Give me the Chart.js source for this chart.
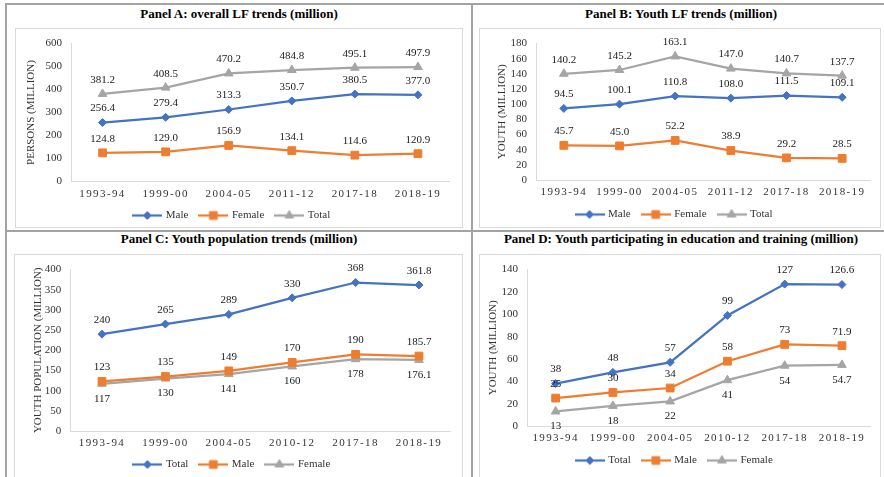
<!DOCTYPE html>
<html>
<head>
<meta charset="utf-8">
<script src="https://cdn.jsdelivr.net/npm/chart.js@4.4.1/dist/chart.umd.min.js"></script>
<style>
  body { margin: 0; width: 884px; height: 477px; overflow: hidden; background: #fff; position: relative; font-family: "Liberation Serif", serif; }
  .rule { position: absolute; background: #a3a3a3; }
  .frame { position: absolute; border: 1px solid #d9d9d9; box-sizing: border-box; }
  .title { position: absolute; text-align: center; font: bold 13px "Liberation Serif", serif; line-height: 16px; color: #000; white-space: nowrap; }
  canvas { position: absolute; }
</style>
</head>
<body>
<div class="rule" style="left:5px;top:3px;width:879px;height:2px"></div>
<div class="rule" style="left:5px;top:3px;width:2px;height:474px"></div>
<div class="rule" style="left:471px;top:3px;width:2px;height:474px"></div>
<div class="rule" style="left:5px;top:230px;width:879px;height:2px"></div>

<div class="frame" style="left:15px;top:28px;width:448px;height:200px"></div>
<div class="frame" style="left:479px;top:28px;width:402px;height:200px"></div>
<div class="frame" style="left:14px;top:254px;width:449px;height:230px"></div>
<div class="frame" style="left:479px;top:254px;width:402px;height:230px"></div>

<div class="title" style="left:7px;width:464px;top:6px">Panel A: overall LF trends (million)</div>
<div class="title" style="left:473px;width:416px;top:6px">Panel B: Youth LF trends (million)</div>
<div class="title" style="left:7px;width:464px;top:231px">Panel C: Youth population trends (million)</div>
<div class="title" style="left:473px;width:416px;top:231px">Panel D: Youth participating in education and training (million)</div>

<canvas id="chartA"></canvas>
<canvas id="chartB"></canvas>
<canvas id="chartC"></canvas>
<canvas id="chartD"></canvas>

<script>
// ---- data ----
const yearsAB = ["1993-94", "1999-00", "2004-05", "2011-12", "2017-18", "2018-19"];
const yearsCD = ["1993-94", "1999-00", "2004-05", "2010-12", "2017-18", "2018-19"];

const lfMale = [256.4, 279.4, 313.3, 350.7, 380.5, 377.0];
const lfFemale = [124.8, 129.0, 156.9, 134.1, 114.6, 120.9];
const lfTotal = [381.2, 408.5, 470.2, 484.8, 495.1, 497.9];

const youthLfMale = [94.5, 100.1, 110.8, 108.0, 111.5, 109.1];
const youthLfFemale = [45.7, 45.0, 52.2, 38.9, 29.2, 28.5];
const youthLfTotal = [140.2, 145.2, 163.1, 147.0, 140.7, 137.7];

const popTotal = [240, 265, 289, 330, 368, 361.8];
const popMale = [123, 135, 149, 170, 190, 185.7];
const popFemale = [117, 130, 141, 160, 178, 176.1];

const eduTotal = [38, 48, 57, 99, 127, 126.6];
const eduMale = [25, 30, 34, 58, 73, 71.9];
const eduFemale = [13, 18, 22, 41, 54, 54.7];

// ---- styles ----
const BLUE = "#4472C4", ORANGE = "#ED7D31", GREY = "#A5A5A5";
const FONT = '"Liberation Serif", serif';
const TXT = "#333";
const LEG_PAD = 12, FS = 11;
const LEG_H = 2 * LEG_PAD + FS;
const LEG_MID = LEG_PAD + FS / 2;

const markers = {
  [BLUE]: { style: "rectRot", r: 4 },
  [ORANGE]: { style: "rect", r: 5.5 },
  [GREY]: { style: "triangle", r: 5 }
};

function legendIcon(color) {
  const c = document.createElement("canvas");
  c.width = 30; c.height = 14;
  const g = c.getContext("2d");
  g.strokeStyle = color; g.lineWidth = 2.25;
  g.beginPath(); g.moveTo(0, 7); g.lineTo(30, 7); g.stroke();
  g.fillStyle = color; g.strokeStyle = color; g.lineWidth = 1;
  const m = markers[color];
  Chart.helpers.drawPoint(g, { pointStyle: m.style, radius: m.r, rotation: 0, borderWidth: 1 }, 15, 7);
  return c;
}

function series(label, data, color, below) {
  const m = markers[color];
  return {
    label: label, data: data, borderColor: color, backgroundColor: color,
    borderWidth: 2.25, pointStyle: m.style, pointRadius: m.r, pointBorderWidth: 1,
    pointBackgroundColor: color, pointBorderColor: color, tension: 0, fill: false,
    labelBelow: !!below
  };
}

// value labels over / under each point
const pointLabels = {
  id: "pointLabels",
  afterDatasetsDraw(chart, args, opts) {
    const ctx = chart.ctx;
    ctx.save();
    ctx.font = "11px " + FONT;
    ctx.fillStyle = "#1a1a1a";
    ctx.textAlign = "center";
    ctx.textBaseline = "middle";
    chart.data.datasets.forEach((ds, i) => {
      chart.getDatasetMeta(i).data.forEach((pt, j) => {
        const v = ds.data[j];
        const txt = opts.decimals != null ? v.toFixed(opts.decimals) : String(v);
        ctx.fillText(txt, pt.x, pt.y + (ds.labelBelow ? 15 : -14));
      });
    });
    ctx.restore();
  }
};

// spaced out x tick labels like the original
const spacedTicks = {
  id: "spacedTicks",
  beforeDraw(chart) {
    const sc = chart.scales.x;
    if (sc._spaced) return;
    const orig = sc.drawLabels;
    sc.drawLabels = function (area) {
      this.ctx.save();
      this.ctx.letterSpacing = "1.4px";
      orig.call(this, area);
      this.ctx.restore();
    };
    sc._spaced = true;
  }
};

function makeChart(id, lay, labels, datasets, yTitle, yMax, yStep, decimals) {
  const cv = document.getElementById(id);
  const h = Math.round(lay.legendY - LEG_MID + LEG_H - lay.y);
  cv.width = lay.w; cv.height = h;
  cv.style.left = lay.x + "px"; cv.style.top = lay.y + "px";
  cv.style.width = lay.w + "px"; cv.style.height = h + "px";
  const xH = (h - LEG_H) - (lay.b - lay.y);
  const yW = lay.l - lay.x;

  return new Chart(cv.getContext("2d"), {
    type: "line",
    data: { labels: labels, datasets: datasets },
    plugins: [pointLabels, spacedTicks],
    options: {
      responsive: false,
      animation: false,
      devicePixelRatio: 1,
      layout: { padding: { top: lay.t - lay.y, right: lay.x + lay.w - lay.r, left: 0, bottom: 0 } },
      scales: {
        x: {
          offset: true,
          grid: { display: false, drawTicks: false },
          border: { display: true, color: "#d9d9d9", width: 1 },
          ticks: { color: TXT, font: { family: FONT, size: 11 }, padding: 6, maxRotation: 0, autoSkip: false },
          afterFit: s => { s.height = xH; }
        },
        y: {
          min: 0, max: yMax,
          grid: { display: false, drawTicks: false },
          border: { display: true, color: "#d9d9d9", width: 1 },
          ticks: { stepSize: yStep, autoSkip: false, color: TXT, font: { family: FONT, size: 11 }, padding: 9 },
          title: {
            display: true, text: yTitle, color: TXT,
            font: { family: FONT, size: 11 },
            padding: { top: lay.yTitleX - lay.x - 6.6, bottom: 0 }
          },
          afterFit: s => { s.width = yW; }
        }
      },
      plugins: {
        legend: {
          position: "bottom",
          labels: {
            usePointStyle: true, pointStyleWidth: 26, padding: LEG_PAD,
            color: TXT, font: { family: FONT, size: FS },
            generateLabels: chart => chart.data.datasets.map((ds, i) => ({
              text: ds.label, datasetIndex: i, hidden: false,
              pointStyle: legendIcon(ds.borderColor),
              fillStyle: ds.borderColor, strokeStyle: ds.borderColor, lineWidth: 0,
              fontColor: TXT
            }))
          }
        },
        tooltip: { enabled: false },
        pointLabels: { decimals: decimals }
      }
    }
  });
}

makeChart("chartA",
  { x: 15, y: 28, w: 448, l: 71, r: 449.5, t: 42, b: 179.5, legendY: 213, yTitleX: 31 },
  yearsAB,
  [series("Male", lfMale, BLUE), series("Female", lfFemale, ORANGE), series("Total", lfTotal, GREY)],
  "PERSONS (MILLION)", 600, 100, 1);

makeChart("chartB",
  { x: 479, y: 28, w: 402, l: 536, r: 870, t: 42, b: 178, legendY: 212, yTitleX: 502 },
  yearsAB,
  [series("Male", youthLfMale, BLUE), series("Female", youthLfFemale, ORANGE), series("Total", youthLfTotal, GREY)],
  "YOUTH (MILLION)", 180, 20, 1);

makeChart("chartC",
  { x: 14, y: 254, w: 449, l: 70.3, r: 450.7, t: 268, b: 429, legendY: 462, yTitleX: 38 },
  yearsCD,
  [series("Total", popTotal, BLUE), series("Male", popMale, ORANGE), series("Female", popFemale, GREY, true)],
  "YOUTH POPULATION (MILLION)", 400, 50, null);

makeChart("chartD",
  { x: 479, y: 254, w: 402, l: 527, r: 870.6, t: 268, b: 424, legendY: 458, yTitleX: 493 },
  yearsCD,
  [series("Total", eduTotal, BLUE), series("Male", eduMale, ORANGE), series("Female", eduFemale, GREY, true)],
  "YOUTH (MILLION)", 140, 20, null);
</script>
</body>
</html>
